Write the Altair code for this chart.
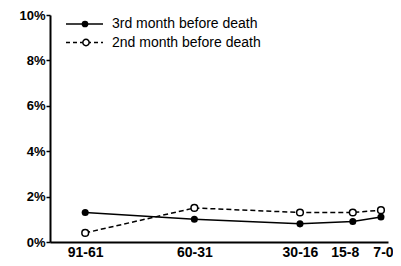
import altair as alt
import pandas as pd

labels = ["91-61", "60-31", "30-16", "15-8", "7-0"]
day_start = [91, 60, 30, 15, 7]
third_month = [0.013, 0.010, 0.008, 0.009, 0.011]
second_month = [0.004, 0.015, 0.013, 0.013, 0.014]
series_names = ["3rd month before death", "2nd month before death"]

rows = []
for i in range(len(labels)):
    rows.append({"day": day_start[i], "label": labels[i], "series": series_names[0], "value": third_month[i]})
    rows.append({"day": day_start[i], "label": labels[i], "series": series_names[1], "value": second_month[i]})
df = pd.DataFrame(rows)

label_expr = ""
for d, l in zip(day_start, labels):
    label_expr += f"datum.value == {d} ? '{l}' : "
label_expr += "''"

FONT = "Liberation Sans"

x = alt.X("day:Q",
          scale=alt.Scale(domain=[5, 101], reverse=True, nice=False, zero=False),
          axis=alt.Axis(values=day_start, labelExpr=label_expr, title=None, grid=False,
                        ticks=False, labelFontWeight="bold", labelFontSize=14, labelFont=FONT,
                        labelColor="black", domainColor="black", domainWidth=2, labelPadding=3,
                        labelFlush=False,
                        labelOffset={"condition": [{"test": "datum.value == 7", "value": 2},
                                                   {"test": "datum.value == 15", "value": -8}],
                                     "value": 0}))
y = alt.Y("value:Q",
          scale=alt.Scale(domain=[0, 0.1], nice=False),
          axis=alt.Axis(values=[0, 0.02, 0.04, 0.06, 0.08, 0.1], format=".0%", title=None, grid=False,
                        tickSize=4, tickWidth=1.5, tickColor="black", labelFontWeight="bold",
                        labelFontSize=13, labelFont=FONT, labelColor="black",
                        domainColor="black", domainWidth=2, labelPadding=1))

base = alt.Chart(df)

line3 = base.transform_filter(alt.datum.series == series_names[0]).mark_line(
    color="black", strokeWidth=1.5).encode(x=x, y=y)
line2 = base.transform_filter(alt.datum.series == series_names[1]).mark_line(
    color="black", strokeWidth=1.5, strokeDash=[5, 3]).encode(x=x, y=y)
pts3 = base.transform_filter(alt.datum.series == series_names[0]).mark_point(
    filled=True, color="black", size=50, opacity=1).encode(x=x, y=y)
pts2 = base.transform_filter(alt.datum.series == series_names[1]).mark_point(
    fill="white", stroke="black", strokeWidth=1.5, size=45, opacity=1, filled=True).encode(x=x, y=y)

leg_df = pd.DataFrame({"series": series_names})
lg = alt.Chart(leg_df)
leg_line1 = lg.transform_filter(alt.datum.series == series_names[0]).mark_rule(
    color="black", strokeWidth=1.5).encode(x=alt.value(16), x2=alt.value(53), y=alt.value(9))
leg_pt1 = lg.transform_filter(alt.datum.series == series_names[0]).mark_point(
    filled=True, color="black", size=45, opacity=1).encode(x=alt.value(35), y=alt.value(9))
leg_txt1 = lg.transform_filter(alt.datum.series == series_names[0]).mark_text(
    align="left", baseline="middle", fontSize=14, font=FONT, color="black").encode(
    x=alt.value(62), y=alt.value(9), text="series:N")
leg_line2 = lg.transform_filter(alt.datum.series == series_names[1]).mark_rule(
    color="black", strokeWidth=1.5, strokeDash=[4, 3]).encode(x=alt.value(16), x2=alt.value(53), y=alt.value(27.5))
leg_pt2 = lg.transform_filter(alt.datum.series == series_names[1]).mark_point(
    fill="white", stroke="black", strokeWidth=1.5, size=40, opacity=1, filled=True).encode(
    x=alt.value(36), y=alt.value(27.5))
leg_txt2 = lg.transform_filter(alt.datum.series == series_names[1]).mark_text(
    align="left", baseline="middle", fontSize=14, font=FONT, color="black").encode(
    x=alt.value(62), y=alt.value(27.5), text="series:N")

chart = alt.layer(line3, line2, pts3, pts2, leg_line1, leg_pt1, leg_txt1,
                  leg_line2, leg_pt2, leg_txt2).properties(
    width=338, height=227,
    autosize="none",
    padding={"left": 42, "top": 7, "right": 5, "bottom": 22},
).configure_view(stroke=None)

chart.save("out.html", embed_options={"renderer": "svg", "actions": False})
